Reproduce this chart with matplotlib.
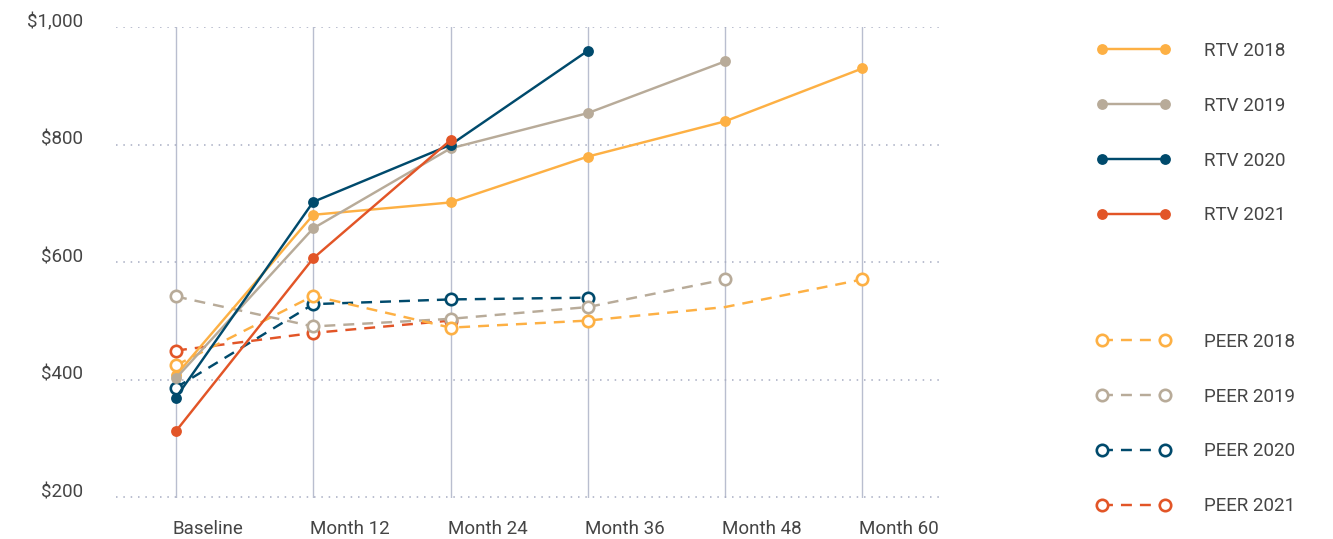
import numpy as np
import matplotlib
matplotlib.use("Agg")
import matplotlib.pyplot as plt
from matplotlib.ticker import FuncFormatter
from matplotlib.transforms import ScaledTranslation

# ---------------- data ----------------
categories = ["Baseline", "Month 12", "Month 24", "Month 36", "Month 48", "Month 60"]

rtv_2018 = [408, 681, 702, 780, 840, 930]
rtv_2019 = [403, 658, 794, 854, 942, np.nan]
rtv_2020 = [370, 703, 800, 960, np.nan, np.nan]
rtv_2021 = [313, 607, 808, np.nan, np.nan, np.nan]

peer_2018 = [425, 543, 489, 501, 524, 571]
peer_2019 = [542, 491, 504, 524, 571, np.nan]
peer_2020 = [387, 529, 537, 540, np.nan, np.nan]
peer_2021 = [450, 480, 501, np.nan, np.nan, np.nan]

y_ticks = [200, 400, 600, 800, 1000]

# ---------------- style ----------------
C_ORANGE = "#FDB044"
C_BEIGE = "#B8AB99"
C_NAVY = "#004A6C"
C_RED = "#E25527"
TEXT = "#454545"

plt.rcParams["font.family"] = ["Roboto", "DejaVu Sans"]

fig = plt.figure(figsize=(13.33, 5.39), dpi=100)
ax = fig.add_axes([116 / 1333, 1 - 497.5 / 539, (943 - 116) / 1333, (497.5 - 27.3) / 539])

x = np.arange(len(categories))

peer_series = [
    ("PEER 2018", peer_2018, C_ORANGE, [0, 1, 2, 3, 5]),
    ("PEER 2019", peer_2019, C_BEIGE, None),
    ("PEER 2020", peer_2020, C_NAVY, None),
    ("PEER 2021", peer_2021, C_RED, None),
]
rtv_series = [
    ("RTV 2018", rtv_2018, C_ORANGE),
    ("RTV 2019", rtv_2019, C_BEIGE),
    ("RTV 2020", rtv_2020, C_NAVY),
    ("RTV 2021", rtv_2021, C_RED),
]

dash = (0, (4.5, 3.3))
lw = 1.75

peer_handles = []
for i, (name, vals, col, mev) in enumerate(peer_series):
    h, = ax.plot(x, vals, linestyle=dash, color=col, lw=lw, marker="o",
                 markersize=8.2, markerfacecolor="white", markeredgecolor=col,
                 markeredgewidth=1.9, markevery=mev, label=name,
                 zorder=3 + (4 - i) * 0.1, clip_on=False)
    peer_handles.append(h)

rtv_handles = []
for i, (name, vals, col) in enumerate(rtv_series):
    h, = ax.plot(x, vals, linestyle="-", color=col, lw=lw, marker="o",
                 markersize=7.8, markerfacecolor=col, markeredgecolor=col,
                 markeredgewidth=0, label=name, zorder=4 + i * 0.1, clip_on=False)
    rtv_handles.append(h)

ax.set_xlim(-0.437, 5.588)
ax.set_ylim(200, 1000)
ax.set_xticks(x)
ax.set_xticklabels(categories)
ax.set_yticks(y_ticks)
ax.yaxis.set_major_formatter(FuncFormatter(lambda v, p: f"${v:,.0f}"))

for s in ax.spines.values():
    s.set_visible(False)

ax.grid(axis="x", color="#B9BECF", lw=1.0, linestyle="-", zorder=0)
ax.grid(axis="y", color="#A7ACC2", lw=1.1, linestyle=(0, (1, 3.8)), zorder=0)
ax.set_axisbelow(True)

ax.tick_params(axis="both", length=0, labelsize=13.5, labelcolor=TEXT)
ax.tick_params(axis="y", pad=24)
ax.tick_params(axis="x", pad=16.5)

for lab in ax.get_xticklabels():
    lab.set_horizontalalignment("left")
    lab.set_transform(lab.get_transform() + ScaledTranslation(-3 / 100, 0, fig.dpi_scale_trans))
for lab in ax.get_yticklabels():
    lab.set_transform(lab.get_transform() + ScaledTranslation(0, 7 / 100, fig.dpi_scale_trans))

leg_kw = dict(frameon=False, fontsize=13.5, labelcolor=TEXT, numpoints=2,
              handlelength=4.0, handletextpad=1.76, labelspacing=1.96,
              borderpad=0, borderaxespad=0, loc="upper left")
leg1 = fig.legend(handles=rtv_handles, bbox_to_anchor=(1096 / 1333, 1 - 42 / 539), **leg_kw)
leg2 = fig.legend(handles=peer_handles, bbox_to_anchor=(1096 / 1333, 1 - 333 / 539), **leg_kw)

fig.savefig("out.png", dpi=100)
